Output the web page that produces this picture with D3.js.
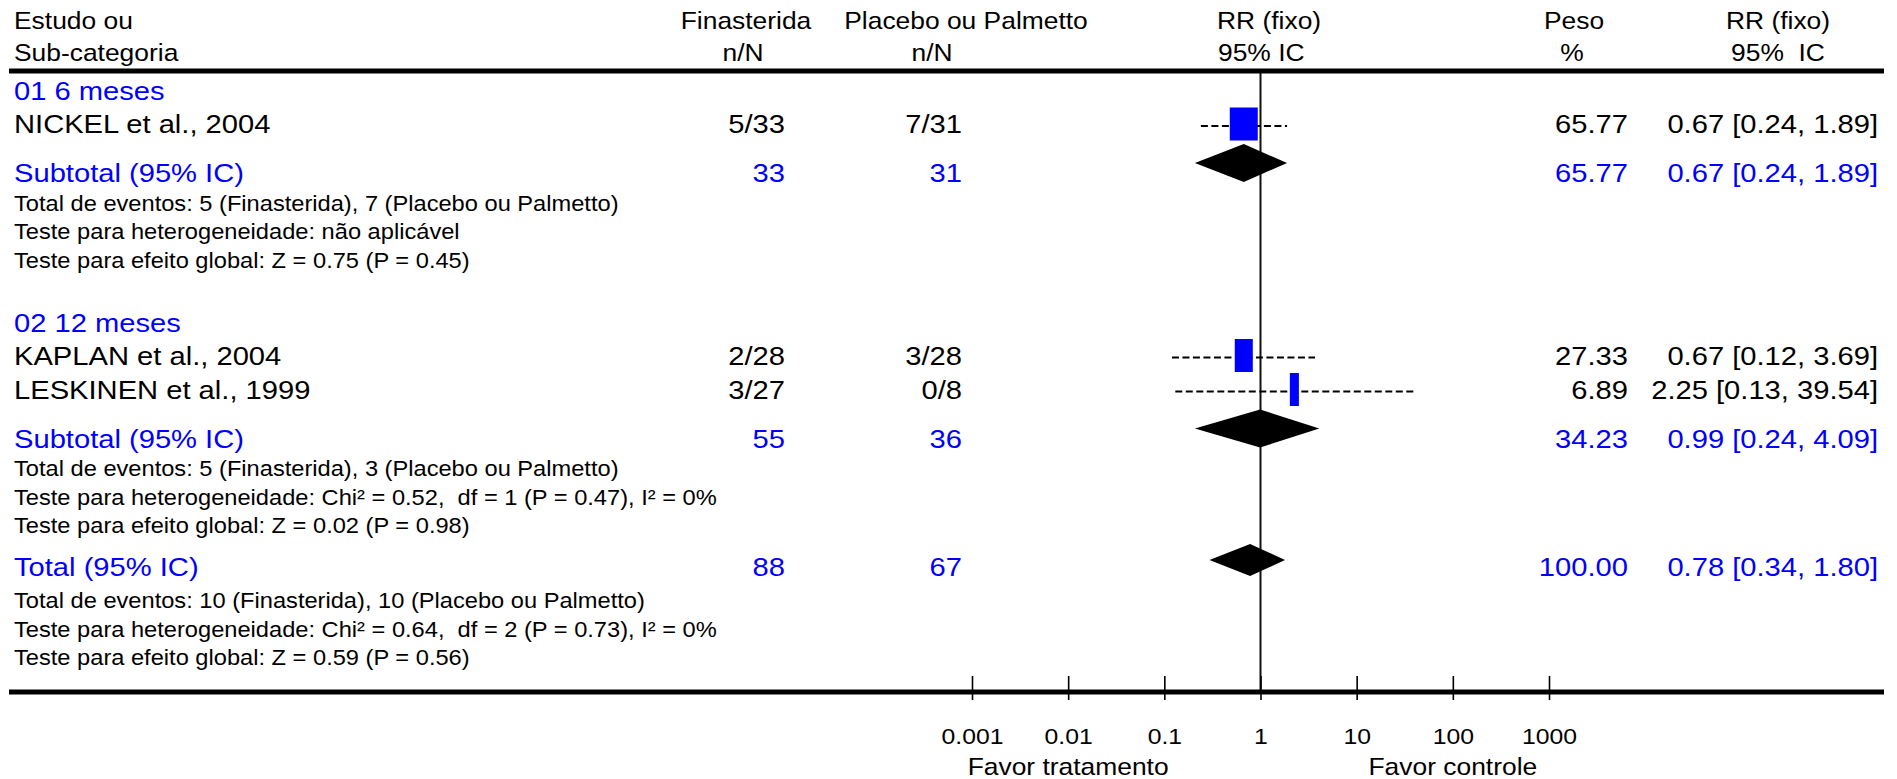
<!DOCTYPE html>
<html lang="pt">
  <head>
    <title>RR (fixo) - Finasterida vs Placebo ou Palmetto</title>
    <meta charset="utf-8" />
    <script src="https://cdn.jsdelivr.net/npm/d3@7"></script>
    <style>
      body { margin: 0; background: #fff; }
      text { font-family: "Liberation Sans", Arial, Helvetica, sans-serif; white-space: pre; }
    </style>
  </head>
  <body>
    <svg id="forest" width="1897" height="779"></svg>
    <script>
      // ---- data ----
      const groupLabels = ["01 6 meses", "02 12 meses"];

      const studies = ["NICKEL et al., 2004", "KAPLAN et al., 2004", "LESKINEN et al., 1999"];
      const studyGroup = [0, 1, 1];
      const treatEvents = [5, 2, 3];
      const treatTotal = [33, 28, 27];
      const ctrlEvents = [7, 3, 0];
      const ctrlTotal = [31, 28, 8];
      const studyWeight = [65.77, 27.33, 6.89];
      const studyRR = [0.67, 0.67, 2.25];
      const studyLow = [0.24, 0.12, 0.13];
      const studyHigh = [1.89, 3.69, 39.54];

      const subTreatN = [33, 55];
      const subCtrlN = [31, 36];
      const subWeight = [65.77, 34.23];
      const subRR = [0.67, 0.99];
      const subLow = [0.24, 0.24];
      const subHigh = [1.89, 4.09];
      const subNotes = [
        [
          "Total de eventos: 5 (Finasterida), 7 (Placebo ou Palmetto)",
          "Teste para heterogeneidade: não aplicável",
          "Teste para efeito global: Z = 0.75 (P = 0.45)"
        ],
        [
          "Total de eventos: 5 (Finasterida), 3 (Placebo ou Palmetto)",
          "Teste para heterogeneidade: Chi² = 0.52,  df = 1 (P = 0.47), I² = 0%",
          "Teste para efeito global: Z = 0.02 (P = 0.98)"
        ]
      ];

      const totalTreatN = 88;
      const totalCtrlN = 67;
      const totalWeight = 100;
      const totalRR = 0.78;
      const totalLow = 0.34;
      const totalHigh = 1.8;
      const totalNotes = [
        "Total de eventos: 10 (Finasterida), 10 (Placebo ou Palmetto)",
        "Teste para heterogeneidade: Chi² = 0.64,  df = 2 (P = 0.73), I² = 0%",
        "Teste para efeito global: Z = 0.59 (P = 0.56)"
      ];

      const axisTicks = [0.001, 0.01, 0.1, 1, 10, 100, 1000];
      const favorLabels = ["Favor tratamento", "Favor controle"];

      // ---- layout ----
      const svg = d3.select("#forest");
      const SX = 1.1; // glyphs in the source are a bit wide
      const blue = "#0000ff";
      const fmt2 = d3.format(".2f");
      const tickFmt = d3.format("~g");

      const fsHead = 24, fsRow = 26.5, fsNote = 21.5, fsTick = 22.5, fsFavor = 24;

      const col = {
        left: 14,
        treat: 785,
        treatHead: 746,
        ctrl: 962,
        ctrlHead: 966,
        ctrlSub: 932,
        rrHead: 1217,
        weight: 1628,
        weightHead: 1574,
        ci: 1878,
        ciHead: 1778
      };
      const lineLeft = 9, lineRight = 1884;
      const topLine = 71, bottomLine = 692;

      const x = d3.scaleLog().domain([0.001, 1000]).range([972, 1549]);

      function label(str, px, py, size, color, anchor) {
        return svg.append("text")
          .attr("transform", `translate(${px},${py}) scale(${SX},1)`)
          .attr("text-anchor", anchor || "start")
          .attr("font-size", size)
          .attr("fill", color || "#000")
          .text(str);
      }

      // rows of the table
      const rows = [];
      groupLabels.forEach((g, gi) => {
        rows.push({ type: "group", gi });
        studies.forEach((s, i) => { if (studyGroup[i] === gi) rows.push({ type: "study", i }); });
        rows.push({ type: "subtotal", gi });
        subNotes[gi].forEach(n => rows.push({ type: "note", text: n }));
      });
      rows.push({ type: "total" });
      totalNotes.forEach(n => rows.push({ type: "note", text: n }));

      // vertical step depends on what came before
      const step = (prev, cur) => {
        if (!prev) return 100;
        if (cur === "group") return 64;
        if (cur === "study") return prev === "group" ? 33 : 34;
        if (cur === "subtotal") return 49;
        if (cur === "total") return 43;
        if (cur === "note") return prev === "total" ? 32 : 28.5;
        return 30;
      };
      let yy = 0;
      rows.forEach((r, k) => {
        yy += step(k ? rows[k - 1].type : null, r.type);
        r.y = yy;
      });

      // header
      label("Estudo ou", col.left, 29, fsHead);
      label("Sub-categoria", col.left, 61, fsHead);
      label("Finasterida", col.treatHead, 29, fsHead, "#000", "middle");
      label("n/N", col.treatHead - 3, 61, fsHead, "#000", "middle");
      label("Placebo ou Palmetto", col.ctrlHead, 29, fsHead, "#000", "middle");
      label("n/N", col.ctrlSub, 61, fsHead, "#000", "middle");
      label("RR (fixo)", col.rrHead, 29, fsHead);
      label("95% IC", col.rrHead + 1, 61, fsHead);
      label("Peso", col.weightHead, 29, fsHead, "#000", "middle");
      label("%", col.weightHead - 2, 61, fsHead, "#000", "middle");
      label("RR (fixo)", col.ciHead, 29, fsHead, "#000", "middle");
      label("95%  IC", col.ciHead, 61, fsHead, "#000", "middle");

      // reference line at RR = 1
      svg.append("line")
        .attr("x1", x(1)).attr("x2", x(1))
        .attr("y1", topLine).attr("y2", bottomLine)
        .attr("stroke", "#111").attr("stroke-width", 2);

      const ciText = (e, lo, hi) => `${fmt2(e)} [${fmt2(lo)}, ${fmt2(hi)}]`;

      rows.forEach(r => {
        if (r.type === "group") {
          label(groupLabels[r.gi], col.left, r.y, fsRow, blue);
        } else if (r.type === "study") {
          const i = r.i;
          label(studies[i], col.left, r.y, fsRow);
          label(`${treatEvents[i]}/${treatTotal[i]}`, col.treat, r.y, fsRow, "#000", "end");
          label(`${ctrlEvents[i]}/${ctrlTotal[i]}`, col.ctrl, r.y, fsRow, "#000", "end");
          label(fmt2(studyWeight[i]), col.weight, r.y, fsRow, "#000", "end");
          label(ciText(studyRR[i], studyLow[i], studyHigh[i]), col.ci, r.y, fsRow, "#000", "end");

          svg.append("line")
            .attr("x1", x(studyLow[i])).attr("x2", x(studyHigh[i]))
            .attr("y1", r.y - 7).attr("y2", r.y - 7)
            .attr("stroke", "#000").attr("stroke-width", 2.2)
            .attr("stroke-dasharray", "7,3.5");
          const w = 3.45 * Math.sqrt(studyWeight[i]);
          svg.append("rect")
            .attr("x", x(studyRR[i]) - w / 2)
            .attr("y", r.y - 9 - 16.5)
            .attr("width", w)
            .attr("height", 33)
            .attr("fill", blue);
        } else if (r.type === "subtotal" || r.type === "total") {
          const isSub = r.type === "subtotal";
          const nT = isSub ? subTreatN[r.gi] : totalTreatN;
          const nC = isSub ? subCtrlN[r.gi] : totalCtrlN;
          const wt = isSub ? subWeight[r.gi] : totalWeight;
          const e = isSub ? subRR[r.gi] : totalRR;
          const lo = isSub ? subLow[r.gi] : totalLow;
          const hi = isSub ? subHigh[r.gi] : totalHigh;
          label(isSub ? "Subtotal (95% IC)" : "Total (95% IC)", col.left, r.y, fsRow, blue);
          label(nT, col.treat, r.y, fsRow, blue, "end");
          label(nC, col.ctrl, r.y, fsRow, blue, "end");
          label(fmt2(wt), col.weight, r.y, fsRow, blue, "end");
          label(ciText(e, lo, hi), col.ci, r.y, fsRow, blue, "end");

          const cy = r.y - (isSub ? 19 : 16);
          const h = isSub ? 19 : 16;
          svg.append("polygon")
            .attr("points", [
              [x(lo) - 6, cy], [x(e), cy - h], [x(hi), cy], [x(e), cy + h]
            ].map(p => p.join(",")).join(" "))
            .attr("fill", "#000");
        } else if (r.type === "note") {
          label(r.text, col.left, r.y, fsNote);
        }
      });

      // thick rules
      [topLine, bottomLine].forEach(ly => {
        svg.append("line")
          .attr("x1", lineLeft).attr("x2", lineRight)
          .attr("y1", ly).attr("y2", ly)
          .attr("stroke", "#000").attr("stroke-width", 5);
      });

      // log axis, ticks cross the bottom rule
      const axis = svg.append("g")
        .attr("transform", `translate(0, ${bottomLine + 8})`)
        .call(d3.axisTop(x).tickValues(axisTicks).tickFormat(tickFmt).tickSize(24));
      axis.select(".domain").remove();
      axis.selectAll(".tick line").attr("stroke", "#000").attr("stroke-width", 1.6);
      axis.selectAll(".tick text")
        .attr("y", 44)
        .attr("dy", 0)
        .attr("x", 0)
        .attr("transform", `scale(${SX},1)`)
        .attr("font-size", fsTick)
        .attr("font-family", "Liberation Sans, Arial, sans-serif")
        .attr("fill", "#000");

      label(favorLabels[0], x(0.01), 775, fsFavor, "#000", "middle");
      label(favorLabels[1], x(100), 775, fsFavor, "#000", "middle");
    </script>
  </body>
</html>
